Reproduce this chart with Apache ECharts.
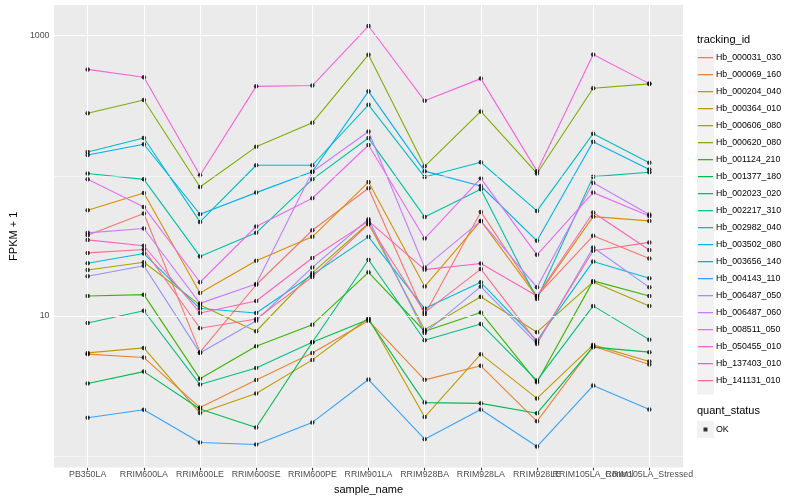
<!DOCTYPE html>
<html><head><meta charset="utf-8">
<script src="https://cdn.jsdelivr.net/npm/echarts@6/dist/echarts.min.js"></script>
<style>html,body{margin:0;padding:0;background:#fff}#c{width:800px;height:500px}</style>
</head><body><div id="c"></div>
<script>
const categories = ['PB350LA','RRIM600LA','RRIM600LE','RRIM600SE','RRIM600PE','RRIM901LA','RRIM928BA','RRIM928LA','RRIM928LE','RRIM105LA_Control','RRIM105LA_Stressed'];
const seriesNames = ['Hb_000031_030','Hb_000069_160','Hb_000204_040','Hb_000364_010','Hb_000606_080','Hb_000620_080','Hb_001124_210','Hb_001377_180','Hb_002023_020','Hb_002217_310','Hb_002982_040','Hb_003502_080','Hb_003656_140','Hb_004143_110','Hb_006487_050','Hb_006487_060','Hb_008511_050','Hb_050455_010','Hb_137403_010','Hb_141131_010'];
const seriesColors = ['#F8766D','#EA8331','#D89000','#C09B00','#A3A500','#7CAE00','#39B600','#00BB4E','#00BF7D','#00C1A3','#00BFC4','#00BAE0','#00B0F6','#35A2FF','#9590FF','#C77CFF','#E76BF3','#FA62DB','#FF62BC','#FF6C91'];

const Hb_000031_030 = [37.7, 53.8, 5.52, 16.7, 40.9, 81.5, 10.2, 55.3, 13.9, 37.3, 25.7];
const Hb_000069_160 = [5.34, 5.05, 2.22, 3.49, 5.45, 9.26, 3.50, 4.41, 1.77, 6.08, 4.50];
const Hb_000204_040 = [56.8, 75.4, 14.6, 24.8, 36.7, 90.3, 16.2, 47.7, 13.7, 51.2, 47.7];
const Hb_000364_010 = [5.45, 5.92, 2.03, 2.80, 4.86, 9.68, 1.90, 5.34, 2.58, 6.22, 4.73];
const Hb_000606_080 = [21.3, 24.2, 12.0, 7.78, 20.3, 45.9, 7.99, 13.7, 7.66, 17.5, 11.8];
const Hb_000620_080 = [280, 348, 83.2, 161, 239, 732, 117, 288, 104, 422, 453];
const Hb_001124_210 = [13.9, 14.2, 3.56, 6.08, 8.67, 20.5, 7.78, 10.6, 3.37, 17.8, 13.9];
const Hb_001377_180 = [3.30, 4.01, 2.17, 1.60, 6.50, 9.44, 2.41, 2.38, 2.02, 5.99, 5.52];
const Hb_002023_020 = [8.92, 10.9, 3.24, 4.26, 6.50, 25.2, 6.71, 8.77, 3.46, 11.8, 6.78];
const Hb_002217_310 = [104, 94.4, 26.6, 39.2, 94.4, 186, 50.9, 80.1, 13.2, 98.7, 106];
const Hb_002982_040 = [148, 186, 46.9, 119, 119, 321, 98.0, 125, 56.2, 200, 124];
const Hb_003502_080 = [23.8, 27.9, 11.3, 10.5, 19.7, 36.7, 11.3, 17.4, 6.67, 24.5, 18.6];
const Hb_003656_140 = [141, 168, 53.2, 75.9, 107, 401, 108, 84.6, 34.4, 175, 111];
const Hb_004143_110 = [1.88, 2.14, 1.25, 1.21, 1.74, 3.52, 1.32, 2.15, 1.17, 3.19, 2.15];
const Hb_006487_050 = [19.2, 22.8, 5.45, 9.26, 22.2, 49.0, 7.57, 16.2, 6.32, 30.8, 16.0];
const Hb_006487_060 = [39.2, 42.1, 12.3, 16.9, 107, 207, 22.2, 47.7, 16.0, 89.4, 52.9];
const Hb_008511_050 = [94.4, 60.0, 17.4, 43.5, 69.2, 166, 35.7, 96.0, 27.3, 75.9, 51.7];
const Hb_050455_010 = [575, 505, 101, 435, 441, 1172, 343, 494, 108, 733, 455];
const Hb_137403_010 = [34.9, 31.7, 10.5, 12.8, 25.9, 47.5, 21.4, 23.7, 13.9, 54.7, 29.6];
const Hb_141131_010 = [28.2, 29.8, 8.18, 9.52, 19.0, 45.2, 10.6, 21.6, 6.50, 29.2, 33.5];

const yLabelValues = [10, 1000];
const yMajorGrid = [10, 1000];
const yMinorGrid = [1, 100];

const allValues = [Hb_000031_030,Hb_000069_160,Hb_000204_040,Hb_000364_010,Hb_000606_080,Hb_000620_080,Hb_001124_210,Hb_001377_180,Hb_002023_020,Hb_002217_310,Hb_002982_040,Hb_003502_080,Hb_003656_140,Hb_004143_110,Hb_006487_050,Hb_006487_060,Hb_008511_050,Hb_050455_010,Hb_137403_010,Hb_141131_010];

const FONT = '"Liberation Sans", Arial, Helvetica, sans-serif';
const catIdx = categories.map((c, i) => i);
const evenIdx = catIdx.filter(i => i % 2 === 0);
const oddIdx = catIdx.filter(i => i % 2 === 1);

const gridSeries = {
  name: '__grid', type: 'line', data: [], z: 1, silent: true,
  markLine: {
    silent: true, symbol: ['none', 'none'], label: { show: false }, animation: false,
    emphasis: { disabled: true },
    data: [
      ...catIdx.map(i => ({ xAxis: i, lineStyle: { color: '#FFFFFF', width: 1.07, type: 'solid' } })),
      ...yMajorGrid.map(v => ({ yAxis: v, lineStyle: { color: '#FFFFFF', width: 1.07, type: 'solid' } })),
      ...yMinorGrid.map(v => ({ yAxis: v, lineStyle: { color: '#FFFFFF', width: 0.53, type: 'solid' } }))
    ]
  }
};

const lineSeries = seriesNames.map((name, k) => ({
  name, type: 'line', z: 2, symbol: 'none', showSymbol: false, silent: true,
  color: seriesColors[k],
  lineStyle: { color: seriesColors[k], width: 1.1 },
  data: allValues[k].map((v, i) => [i, v])
}));

const pointData = [];
allValues.forEach(arr => arr.forEach((v, i) => pointData.push([i, v])));
const pointSeries = {
  name: 'OK', type: 'scatter', z: 3, silent: true, symbol: 'circle', symbolSize: 4.5,
  color: '#000000', itemStyle: { color: '#000000' }, data: pointData
};

const lineIcon = 'path://M0,0L0,0M1,8L16,8L16,9.3L1,9.3ZM17,17L17,17';
const dotIcon = 'path://M0,0L0,0M6.5,6.5L10.5,6.5L10.5,10.5L6.5,10.5ZM17,17L17,17';

const labelCommon = { show: true, margin: 2.5, fontSize: 8.8, color: '#4D4D4D', fontFamily: FONT,
  hideOverlap: false, showMinLabel: true, showMaxLabel: true, formatter: v => categories[Math.round(v)] };

const chart = echarts.init(document.getElementById('c'), null, { renderer: 'canvas' });
chart.setOption({
  animation: false,
  backgroundColor: '#FFFFFF',
  textStyle: { fontFamily: FONT },
  title: [
    { text: 'tracking_id', left: 697, top: 34, padding: 0, textStyle: { fontSize: 11, fontWeight: 'normal', color: '#000', fontFamily: FONT } },
    { text: 'quant_status', left: 697, top: 405, padding: 0, textStyle: { fontSize: 11, fontWeight: 'normal', color: '#000', fontFamily: FONT } }
  ],
  graphic: [
    { type: 'rect', left: 697, top: 49, shape: { width: 17, height: 345.6 }, style: { fill: '#F2F2F2' }, z: -1 },
    { type: 'rect', left: 697, top: 421, shape: { width: 17, height: 17 }, style: { fill: '#F2F2F2' }, z: -1 }
  ],
  grid: { left: 45, right: 117, top: 5, bottom: 31, show: true, backgroundColor: '#EBEBEB', borderWidth: 0, containLabel: false },
  legend: [
    {
      data: seriesNames, orient: 'vertical', left: 697, top: 49, padding: 0,
      itemWidth: 17, itemHeight: 17.28, itemGap: 0, icon: lineIcon, selectedMode: false,
      itemStyle: { borderWidth: 0 },
      textStyle: { fontSize: 8.8, color: '#000', fontFamily: FONT, padding: [0, 0, 0, -3] }
    },
    {
      data: ['OK'], orient: 'vertical', left: 697, top: 421, padding: 0,
      itemWidth: 17, itemHeight: 17, itemGap: 0, icon: dotIcon, selectedMode: false,
      itemStyle: { borderWidth: 0 },
      textStyle: { fontSize: 8.8, color: '#000', fontFamily: FONT, padding: [0, 0, 0, -3] }
    }
  ],
  xAxis: [
    {
      type: 'value', min: -0.6, max: 10.6, position: 'bottom',
      name: 'sample_name', nameLocation: 'middle', nameGap: 12,
      nameTextStyle: { fontSize: 11, color: '#000', fontFamily: FONT },
      axisLine: { show: false },
      axisTick: { show: true, length: 2.75, lineStyle: { color: '#333333', width: 1.07 }, customValues: catIdx },
      axisLabel: Object.assign({}, labelCommon, { customValues: evenIdx }),
      splitLine: { show: false }, minorSplitLine: { show: false }
    },
    {
      type: 'value', min: -0.6, max: 10.6, position: 'bottom', offset: 0,
      axisLine: { show: false }, axisTick: { show: false },
      axisLabel: Object.assign({}, labelCommon, { customValues: oddIdx }),
      splitLine: { show: false }, minorSplitLine: { show: false }
    }
  ],
  yAxis: {
    type: 'log', logBase: 10, min: 0.828, max: 1656,
    name: 'FPKM + 1', nameLocation: 'middle', nameGap: 27,
    nameTextStyle: { fontSize: 11, color: '#000', fontFamily: FONT },
    axisLine: { show: false },
    axisTick: { show: true, length: 2.75, lineStyle: { color: '#333333', width: 1.07 }, customValues: yLabelValues },
    axisLabel: { show: true, margin: 4.5, fontSize: 8.8, color: '#4D4D4D', fontFamily: FONT, customValues: yLabelValues,
      showMinLabel: true, showMaxLabel: true,
      formatter: v => String(Math.round(v)) },
    splitLine: { show: false }, minorSplitLine: { show: false }
  },
  series: [gridSeries, ...lineSeries, pointSeries]
});
</script></body></html>
